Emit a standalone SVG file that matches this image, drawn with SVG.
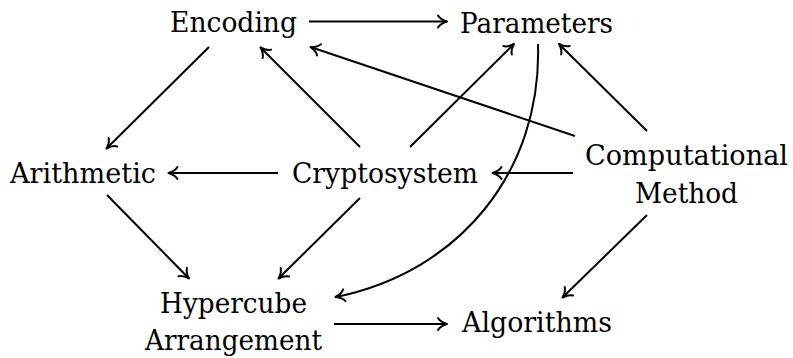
<svg xmlns="http://www.w3.org/2000/svg" width="793" height="358" viewBox="0 0 793 358">
  <defs>
    <marker id="tip" markerUnits="userSpaceOnUse" viewBox="-12 -8 14 16" refX="0" refY="0" markerWidth="14" markerHeight="16" orient="auto" overflow="visible">
      <path d="M-9,-6 C-7.2,-3 -2.7,-0.8 0,0 C-2.7,0.8 -7.2,3 -9,6" fill="none" stroke="#000" stroke-width="2" stroke-linecap="round" stroke-linejoin="round"/>
    </marker>
    <style>
      text { font-family: 'DejaVu Serif', serif; font-size: 27px; fill: #000; }
      .edge { fill: none; stroke: #000; stroke-width: 2; marker-end: url(#tip); }
    </style>
  </defs>
  <rect width="793" height="358" fill="#fff"/>

  <g id="connectors">
    <path class="edge" d="M309,21.5 L447,21.5"/>
    <path class="edge" d="M209,47 L106.5,148.5"/>
    <path class="edge" d="M360,147 L260.5,47.5"/>
    <path class="edge" d="M575,136 L310.5,47"/>
    <path class="edge" d="M410,147 L514,44"/>
    <path class="edge" d="M647,131 L559,44"/>
    <path class="edge" d="M538,44 C542,171 460,272 335.5,297"/>
    <path class="edge" d="M278,173 L168.5,173"/>
    <path class="edge" d="M573,173 L492.5,173"/>
    <path class="edge" d="M107,195 L189,278.5"/>
    <path class="edge" d="M360,198 L278.5,278.5"/>
    <path class="edge" d="M647,215 L562.5,297.5"/>
    <path class="edge" d="M334,324 L447,324"/>
  </g>

  <g id="encoding"><text x="170" y="32" textLength="127" lengthAdjust="spacingAndGlyphs">Encoding</text></g>
  <g id="parameters"><text x="460" y="33" textLength="153" lengthAdjust="spacingAndGlyphs">Parameters</text></g>
  <g id="arithmetic"><text x="10" y="183" textLength="146" lengthAdjust="spacingAndGlyphs">Arithmetic</text></g>
  <g id="cryptosystem"><text x="292" y="182.5" textLength="186" lengthAdjust="spacingAndGlyphs">Cryptosystem</text></g>
  <g id="computational-method">
    <text x="585" y="165" textLength="203" lengthAdjust="spacingAndGlyphs">Computational</text>
    <text x="635" y="203" textLength="103" lengthAdjust="spacingAndGlyphs">Method</text>
  </g>
  <g id="hypercube-arrangement">
    <text x="160" y="313" textLength="147" lengthAdjust="spacingAndGlyphs">Hypercube</text>
    <text x="145" y="350" textLength="177" lengthAdjust="spacingAndGlyphs">Arrangement</text>
  </g>
  <g id="algorithms"><text x="462" y="332" textLength="150" lengthAdjust="spacingAndGlyphs">Algorithms</text></g>
</svg>
